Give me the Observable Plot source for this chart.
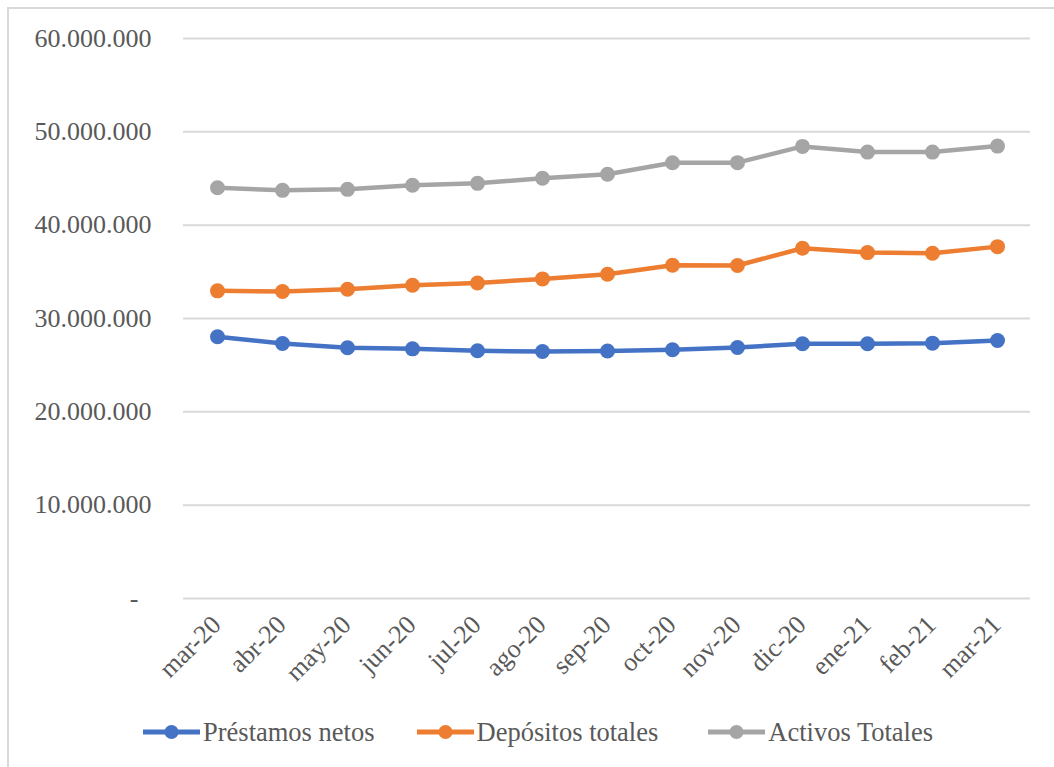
<!DOCTYPE html>
<html>
<head>
<meta charset="utf-8">
<script src="https://cdn.jsdelivr.net/npm/d3@7"></script>
<script src="https://cdn.jsdelivr.net/npm/@observablehq/plot@0.6"></script>
<style>
  html, body { margin: 0; padding: 0; background: #fff; overflow: hidden; }
  body { width: 1054px; height: 767px; position: relative; font-family: "Liberation Serif", "Times New Roman", serif; }
  #frame { position: absolute; left: 7px; top: 7px; width: 1200px; height: 900px; border: 2px solid #d9d9d9; box-sizing: border-box; pointer-events: none; }
  #chart { position: absolute; left: 0; top: 0; }
  #legend { position: absolute; left: 143px; top: 712px; height: 40px; display: flex; align-items: center; font-size: 26.5px; color: #595959; }
  .item { display: flex; align-items: center; }
  .item svg { margin-right: 3px; }
</style>
</head>
<body>
<div id="frame"></div>
<div id="chart"></div>
<div id="legend"></div>
<script>
// Monthly balances (mar-20 to mar-21)
const months = ["mar-20", "abr-20", "may-20", "jun-20", "jul-20", "ago-20", "sep-20", "oct-20", "nov-20", "dic-20", "ene-21", "feb-21", "mar-21"];
const prestamos = [28040000, 27320000, 26860000, 26750000, 26540000, 26460000, 26520000, 26650000, 26890000, 27290000, 27290000, 27360000, 27640000];
const depositos = [32960000, 32890000, 33140000, 33570000, 33810000, 34240000, 34740000, 35710000, 35680000, 37530000, 37060000, 36990000, 37700000];
const activos = [44010000, 43730000, 43840000, 44270000, 44480000, 45020000, 45450000, 46690000, 46700000, 48440000, 47830000, 47830000, 48470000];
const seriesNames = ["Préstamos netos", "Depósitos totales", "Activos Totales"];
const seriesColors = ["#4472C4", "#ED7D31", "#A5A5A5"];
const yTicks = [0, 10000000, 20000000, 30000000, 40000000, 50000000, 60000000];

const seriesValues = [prestamos, depositos, activos];
const data = seriesNames.flatMap((name, i) =>
  months.map((m, j) => ({month: m, value: seriesValues[i][j], series: name}))
);

const fmt = d => d === 0 ? "-\u2002" : d3.format(",")(d).replace(/,/g, ".");

const chart = Plot.plot({
  width: 1054,
  height: 700,
  marginLeft: 183,
  marginRight: 24,
  marginTop: 38,
  marginBottom: 102,
  style: {fontFamily: "'Liberation Serif', 'Times New Roman', serif", fontSize: "26px", color: "#595959", background: "transparent", overflow: "visible"},
  x: {type: "point", domain: months, padding: 0.5},
  y: {domain: [0, 60000000]},
  color: {domain: seriesNames, range: seriesColors},
  marks: [
    Plot.gridY(yTicks, {stroke: "#d9d9d9", strokeOpacity: 1, strokeWidth: 2}),
    Plot.axisY(yTicks, {tickSize: 0, tickPadding: 32, tickFormat: fmt, label: null, fill: "#595959"}),
    Plot.axisX({tickSize: 0, tickPadding: 10, tickRotate: -45, dx: -1, dy: 12, label: null, fill: "#595959"}),
    Plot.line(data, {x: "month", y: "value", z: "series", stroke: "series", strokeWidth: 4.5, curve: "linear"}),
    Plot.dot(data, {x: "month", y: "value", fill: "series", r: 7.5, stroke: "none"})
  ]
});
document.getElementById("chart").appendChild(chart);

// Legend: line-with-marker swatch followed by the series name
const legendGaps = [42, 50, 0];
const legend = d3.select("#legend");
seriesNames.forEach((name, i) => {
  const item = legend.append("div").attr("class", "item").style("margin-right", legendGaps[i] + "px");
  const sw = item.append("svg").attr("width", 57).attr("height", 20);
  sw.append("line").attr("x1", 0).attr("x2", 57).attr("y1", 10).attr("y2", 10)
    .attr("stroke", seriesColors[i]).attr("stroke-width", 5);
  sw.append("circle").attr("cx", 28.5).attr("cy", 10).attr("r", 7).attr("fill", seriesColors[i]);
  item.append("span").text(name);
});
</script>
</body>
</html>
